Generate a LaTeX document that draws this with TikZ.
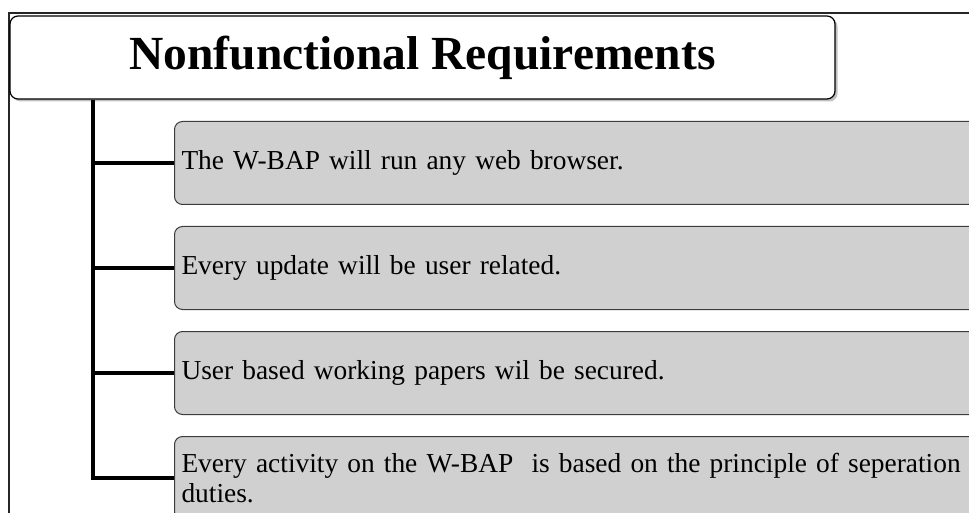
\documentclass[tikz,border=0pt]{standalone}
\usepackage{fontspec}
\setmainfont{Liberation Serif}
\usetikzlibrary{shadows}
\definecolor{boxfill}{RGB}{208,208,208}
\definecolor{boxline}{RGB}{60,60,60}
\tikzset{
  frameline/.style={draw=black!85, line width=1.1pt},
  titlebox/.style={draw=black, line width=1.2pt, fill=white, rounded corners=8pt,
    minimum width=825pt, minimum height=83pt, inner sep=0pt,
    font=\fontsize{47.5}{52}\selectfont\bfseries,
    drop shadow={shadow xshift=2.5pt, shadow yshift=-2.5pt, opacity=0.35, fill=black!70}},
  reqbox/.style={draw=boxline, line width=1pt, fill=boxfill, rounded corners=8pt,
    anchor=north west, minimum width=860pt, minimum height=83pt,
    text width=846pt, inner xsep=7pt, inner ysep=0pt, align=left,
    font=\fontsize{27.4}{30.5}\selectfont},
  bar/.style={draw=black, line width=4.5pt},
}
\begin{document}
\begin{tikzpicture}[x=1pt,y=-1pt]
\useasboundingbox (0,0) rectangle (969,513);
\clip (0,0) rectangle (969,513);
\fill[white] (0,0) rectangle (969,513);

% surrounding frame, open to the right and bottom
\draw[frameline] (9,520) -- (9,13) -- (980,13);

% heading
\node[titlebox] (title) at (422.5,57.5) {Nonfunctional Requirements};

% requirement boxes
\node[reqbox] (r1) at (174,121) {The W-BAP will run any web browser.};
\node[reqbox] (r2) at (174,226) {Every update will be user related.};
\node[reqbox] (r3) at (174,331) {User based working papers wil be secured.};
\node[reqbox] (r4) at (174,436) {Every activity on the W-BAP\ \ is based on the principle of seperation of\\duties.};

% tree connectors
\coordinate (trunk) at (93,0);
\draw[bar] (title.south -| trunk) -- ([yshift=-2.25pt]trunk |- r4.west);
\foreach \r in {r1,r2,r3,r4}
  \draw[bar] ([xshift=-2.25pt]trunk |- \r.west) -- (\r.west);
\end{tikzpicture}
\end{document}
